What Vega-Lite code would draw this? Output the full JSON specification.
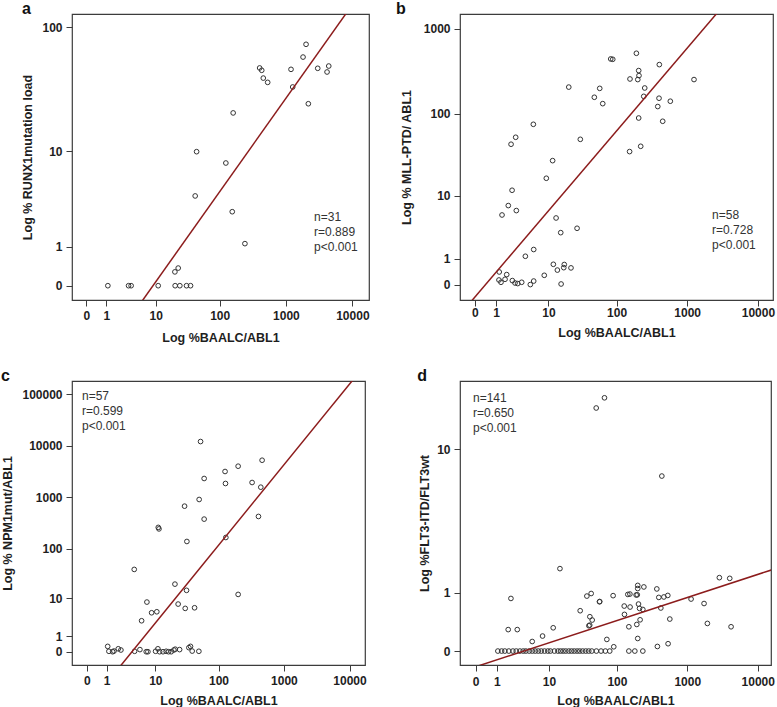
{
  "$schema": "https://vega.github.io/schema/vega-lite/v6.json",
  "padding": {"left": 0, "top": 0, "right": 0, "bottom": 0},
  "background": "white",
  "columns": 2,
  "bounds": "flush",
  "align": "each",
  "spacing": {"row": 81, "column": 91},
  "config": {
    "font": "Liberation Sans",
    "view": {"stroke": "#3c3c3c", "strokeWidth": 1.2},
    "axis": {
      "domain": false, "grid": false, "tickColor": "#3c3c3c", "tickSize": 6, "tickWidth": 1,
      "labelFont": "Liberation Sans", "labelFontWeight": "bold", "labelFontSize": 12, "labelColor": "#1e1e1e",
      "labelFlush": false, "labelOverlap": false, "labelPadding": 4,
      "titleFont": "Liberation Sans", "titleFontWeight": "bold", "titleFontSize": 12.5, "titleColor": "#1e1e1e"
    },
    "title": {"anchor": "start", "frame": "group", "fontSize": 16, "fontWeight": "bold", "font": "Liberation Sans", "color": "#111", "baseline": "alphabetic", "offset": 0, "dy": 7.2}
  },
  "datasets": {
    "a_pts": [
      {"x": 1.1, "y": 0}, {"x": 3.3, "y": 0}, {"x": 3.7, "y": 0}, {"x": 11, "y": 0}, {"x": 20.6, "y": 0}, {"x": 24.4, "y": 0}, {"x": 31, "y": 0}, {"x": 35.8, "y": 0},
      {"x": 20.4, "y": 0.28}, {"x": 23, "y": 0.37}, {"x": 241, "y": 1.12}, {"x": 155, "y": 2.75}, {"x": 42.2, "y": 3.97}, {"x": 124, "y": 7.95}, {"x": 44.4, "y": 9.96},
      {"x": 160, "y": 20.9}, {"x": 402, "y": 47.9}, {"x": 432, "y": 45.9}, {"x": 456, "y": 39.8}, {"x": 531, "y": 36.8}, {"x": 1193, "y": 46.7}, {"x": 1265, "y": 33.8},
      {"x": 1810, "y": 58.4}, {"x": 2009, "y": 73.6}, {"x": 2174, "y": 24.8}, {"x": 3011, "y": 47.6}, {"x": 4158, "y": 44.5}, {"x": 4411, "y": 49.6}
    ],
    "a_fit": [{"x": -0.995, "y": -7.83}, {"x": 19952, "y": 249.6}],
    "a_txt": [{"x": 2650, "y": 2.705, "label": "n=31\nr=0.889\np<0.001"}],
    "b_pts": [
      {"x": 191, "y": 518}, {"x": 82.4, "y": 444}, {"x": 88, "y": 440}, {"x": 404, "y": 381}, {"x": 206, "y": 324}, {"x": 208, "y": 283}, {"x": 155, "y": 258},
      {"x": 200, "y": 254}, {"x": 1250, "y": 254}, {"x": 20.3, "y": 207}, {"x": 57.3, "y": 200}, {"x": 251, "y": 202}, {"x": 47.9, "y": 157}, {"x": 243, "y": 161},
      {"x": 63.3, "y": 132}, {"x": 400, "y": 153}, {"x": 578, "y": 141}, {"x": 384, "y": 122}, {"x": 206, "y": 89.2}, {"x": 451, "y": 81.6}, {"x": 5.73, "y": 75.1},
      {"x": 30, "y": 49.7}, {"x": 2.79, "y": 52.6}, {"x": 2.26, "y": 43.4}, {"x": 153, "y": 35.4}, {"x": 220, "y": 41}, {"x": 11.6, "y": 27.5}, {"x": 9.26, "y": 16.7},
      {"x": 2.37, "y": 11.8}, {"x": 1.98, "y": 7.46}, {"x": 1.43, "y": 5.56}, {"x": 2.87, "y": 6.39}, {"x": 13.1, "y": 5.05}, {"x": 26.9, "y": 3.58}, {"x": 15.4, "y": 3.07},
      {"x": 5.81, "y": 1.58}, {"x": 4.19, "y": 1.15}, {"x": 1.22, "y": 0.406}, {"x": 1.83, "y": 0.31}, {"x": 1.2, "y": 0.132}, {"x": 1.35, "y": 0.064}, {"x": 1.68, "y": 0.154},
      {"x": 2.4, "y": 0.114}, {"x": 2.71, "y": 0.044}, {"x": 3.05, "y": 0.028}, {"x": 3.61, "y": 0.064}, {"x": 5.1, "y": 0}, {"x": 5.81, "y": 0.1}, {"x": 8.6, "y": 0.285},
      {"x": 11.9, "y": 0.73}, {"x": 13.7, "y": 0.48}, {"x": 17.4, "y": 0.72}, {"x": 17.1, "y": 0.58}, {"x": 21.9, "y": 0.57}, {"x": 15.6, "y": 0.016}
    ],
    "b_fit": [{"x": -1.512, "y": -2.459}, {"x": 25118, "y": 13771}],
    "b_txt": [{"x": 2248, "y": 6.57, "label": "n=58\nr=0.728\np<0.001"}],
    "c_pts": [
      {"x": 52.8, "y": 12170}, {"x": 465, "y": 5272}, {"x": 200, "y": 4035}, {"x": 126, "y": 3184}, {"x": 60, "y": 2327}, {"x": 128, "y": 1861}, {"x": 327, "y": 1945},
      {"x": 444, "y": 1577}, {"x": 50.2, "y": 909}, {"x": 29.7, "y": 674}, {"x": 60, "y": 377}, {"x": 409, "y": 425}, {"x": 11.2, "y": 260}, {"x": 11.5, "y": 243},
      {"x": 32.3, "y": 138}, {"x": 129.6, "y": 165}, {"x": 4.25, "y": 38.8}, {"x": 20.9, "y": 19.6}, {"x": 31.9, "y": 14.6}, {"x": 200, "y": 12}, {"x": 7.19, "y": 8.23},
      {"x": 23.5, "y": 7.44}, {"x": 30.4, "y": 5.96}, {"x": 42.6, "y": 6.15}, {"x": 8.66, "y": 4.72}, {"x": 10.6, "y": 4.98}, {"x": 5.8, "y": 3.0},
      {"x": 1.07, "y": 0.27}, {"x": 1.16, "y": 0.02}, {"x": 1.46, "y": 0}, {"x": 1.58, "y": 0.03}, {"x": 2.0, "y": 0.14}, {"x": 2.29, "y": 0.08}, {"x": 4.32, "y": 0.02},
      {"x": 5.41, "y": 0.1}, {"x": 7.0, "y": 0}, {"x": 7.48, "y": 0}, {"x": 10.1, "y": 0.02}, {"x": 11.05, "y": 0.14}, {"x": 11.8, "y": 0}, {"x": 13.4, "y": 0},
      {"x": 15.1, "y": 0.02}, {"x": 16.5, "y": 0}, {"x": 18.2, "y": 0}, {"x": 20.1, "y": 0.08}, {"x": 21.1, "y": 0.12}, {"x": 24.8, "y": 0.1}, {"x": 34.7, "y": 0.2},
      {"x": 36.8, "y": 0.27}, {"x": 39.1, "y": 0.03}, {"x": 49.7, "y": 0.02}
    ],
    "c_fit": [{"x": -1.512, "y": -49.8}, {"x": 25118, "y": 676082}],
    "c_txt": [{"x": -0.19, "y": 116400, "label": "n=57\nr=0.599\np<0.001"}],
    "d_pts": [
      {"x": 66.2, "y": 19.2}, {"x": 50.3, "y": 16.9}, {"x": 436, "y": 6.98}, {"x": 14.7, "y": 1.66}, {"x": 2.17, "y": 0.867}, {"x": 2856, "y": 1.39}, {"x": 4008, "y": 1.37},
      {"x": 36.8, "y": 0.92}, {"x": 42.5, "y": 0.98}, {"x": 56.1, "y": 0.795}, {"x": 56.5, "y": 0.8}, {"x": 88.1, "y": 0.93}, {"x": 29.4, "y": 0.614}, {"x": 40.7, "y": 0.503},
      {"x": 44, "y": 0.445}, {"x": 39.4, "y": 0.35}, {"x": 40.5, "y": 0.36}, {"x": 1.9, "y": 0.29}, {"x": 2.9, "y": 0.29}, {"x": 11.6, "y": 0.318}, {"x": 7.9, "y": 0.195},
      {"x": 5.35, "y": 0.12}, {"x": 71.6, "y": 0.148}, {"x": 90, "y": 0.052},
      {"x": 143, "y": 0.958}, {"x": 153, "y": 0.967}, {"x": 188, "y": 0.945}, {"x": 195, "y": 0.95}, {"x": 198, "y": 1.18}, {"x": 198, "y": 1.1}, {"x": 242, "y": 1.14},
      {"x": 370, "y": 1.09}, {"x": 395, "y": 0.89}, {"x": 466, "y": 0.9}, {"x": 530, "y": 0.935}, {"x": 1134, "y": 0.854}, {"x": 1733, "y": 0.758}, {"x": 127, "y": 0.706},
      {"x": 154, "y": 0.686}, {"x": 203, "y": 0.747}, {"x": 210, "y": 0.659}, {"x": 234, "y": 0.638}, {"x": 422, "y": 0.667}, {"x": 128, "y": 0.545}, {"x": 214, "y": 0.449},
      {"x": 192, "y": 0.371}, {"x": 148, "y": 0.334}, {"x": 566, "y": 0.462}, {"x": 1931, "y": 0.388}, {"x": 4186, "y": 0.334}, {"x": 198, "y": 0.161}, {"x": 377, "y": 0.056},
      {"x": 535, "y": 0.091}, {"x": 148, "y": 0}, {"x": 180, "y": 0}, {"x": 234, "y": 0},
      {"x": 1.07, "y": 0}, {"x": 1.34, "y": 0}, {"x": 1.6, "y": 0}, {"x": 1.96, "y": 0}, {"x": 2.38, "y": 0}, {"x": 2.77, "y": 0}, {"x": 3.25, "y": 0}, {"x": 3.73, "y": 0},
      {"x": 4.16, "y": 0}, {"x": 4.75, "y": 0}, {"x": 5.35, "y": 0}, {"x": 6.0, "y": 0}, {"x": 6.73, "y": 0}, {"x": 7.52, "y": 0}, {"x": 8.49, "y": 0}, {"x": 9.58, "y": 0},
      {"x": 10.5, "y": 0}, {"x": 12.1, "y": 0}, {"x": 13.7, "y": 0}, {"x": 15, "y": 0}, {"x": 16.4, "y": 0}, {"x": 18, "y": 0}, {"x": 20, "y": 0}, {"x": 21.9, "y": 0},
      {"x": 24, "y": 0}, {"x": 26.5, "y": 0}, {"x": 29, "y": 0}, {"x": 32, "y": 0}, {"x": 35.5, "y": 0}, {"x": 39.2, "y": 0}, {"x": 43.4, "y": 0}, {"x": 50.6, "y": 0},
      {"x": 59.1, "y": 0}, {"x": 68.2, "y": 0}, {"x": 78.8, "y": 0}
    ],
    "d_fit": [{"x": -1.512, "y": -0.345}, {"x": 25118, "y": 1.77}],
    "d_txt": [{"x": -0.088, "y": 20.5, "label": "n=141\nr=0.650\np<0.001"}]
  },
  "concat": [
    {
      "width": 297, "height": 286,
      "title": {"text": "a", "dx": -50},
      "encoding": {
        "x": {"field": "x", "type": "quantitative",
          "scale": {"type": "symlog", "constant": 1, "domain": [-0.649, 17782], "nice": false, "zero": false},
          "axis": {"values": [0, 1, 10, 100, 1000, 10000], "format": "d", "title": "Log %BAALC/ABL1", "labelPadding": 4, "minExtent": 20, "maxExtent": 20, "titlePadding": 11.4}},
        "y": {"field": "y", "type": "quantitative",
          "scale": {"type": "symlog", "constant": 1, "domain": [-0.291, 127.2], "nice": false, "zero": false},
          "axis": {"values": [0, 1, 10, 100], "format": "d", "title": "Log % RUNX1mutation load", "minExtent": 30, "maxExtent": 30, "titlePadding": 7.4}}
      },
      "layer": [
        {"data": {"name": "a_pts"}, "mark": {"type": "point", "filled": false, "stroke": "#333", "strokeWidth": 1, "size": 22, "opacity": 1}},
        {"data": {"name": "a_fit"}, "mark": {"type": "line", "clip": true, "color": "#8c1c1c", "strokeWidth": 1.5}},
        {"data": {"name": "a_txt"}, "mark": {"type": "text", "align": "left", "baseline": "top", "lineBreak": "\n", "lineHeight": 15, "fontSize": 12, "color": "#333"}, "encoding": {"text": {"field": "label"}}}
      ]
    },
    {
      "width": 313, "height": 286,
      "title": {"text": "b", "dx": -64},
      "encoding": {
        "x": {"field": "x", "type": "quantitative",
          "scale": {"type": "symlog", "constant": 1, "domain": [-0.614, 16330], "nice": false, "zero": false},
          "axis": {"values": [0, 1, 10, 100, 1000, 10000], "format": "d", "title": "Log %BAALC/ABL1", "labelPadding": 1.5, "minExtent": 20, "maxExtent": 20, "titlePadding": 6.7}},
        "y": {"field": "y", "type": "quantitative",
          "scale": {"type": "symlog", "constant": 1, "domain": [-0.517, 1499], "nice": false, "zero": false},
          "axis": {"values": [0, 1, 10, 100, 1000], "format": "d", "title": "Log % MLL-PTD/ ABL1", "minExtent": 36.7, "maxExtent": 36.7, "titlePadding": 10}}
      },
      "layer": [
        {"data": {"name": "b_pts"}, "mark": {"type": "point", "filled": false, "stroke": "#333", "strokeWidth": 1, "size": 22, "opacity": 1}},
        {"data": {"name": "b_fit"}, "mark": {"type": "line", "clip": true, "color": "#8c1c1c", "strokeWidth": 1.5}},
        {"data": {"name": "b_txt"}, "mark": {"type": "text", "align": "left", "baseline": "top", "lineBreak": "\n", "lineHeight": 15, "fontSize": 12, "color": "#333"}, "encoding": {"text": {"field": "label"}}}
      ]
    },
    {
      "width": 293, "height": 284,
      "title": {"text": "c", "dx": -71},
      "encoding": {
        "x": {"field": "x", "type": "quantitative",
          "scale": {"type": "symlog", "constant": 1, "domain": [-0.69, 17218], "nice": false, "zero": false},
          "axis": {"values": [0, 1, 10, 100, 1000, 10000], "format": "d", "title": "Log %BAALC/ABL1", "labelPadding": 4, "minExtent": 20, "maxExtent": 20, "titlePadding": 9.4}},
        "y": {"field": "y", "type": "quantitative",
          "scale": {"type": "symlog", "constant": 1, "domain": [-0.811, 182800], "nice": false, "zero": false},
          "axis": {"values": [0, 1, 10, 100, 1000, 10000, 100000], "format": "d", "title": "Log % NPM1mut/ABL1", "minExtent": 50, "maxExtent": 50, "titlePadding": 7.6}}
      },
      "layer": [
        {"data": {"name": "c_pts"}, "mark": {"type": "point", "filled": false, "stroke": "#333", "strokeWidth": 1, "size": 22, "opacity": 1}},
        {"data": {"name": "c_fit"}, "mark": {"type": "line", "clip": true, "color": "#8c1c1c", "strokeWidth": 1.5}},
        {"data": {"name": "c_txt"}, "mark": {"type": "text", "align": "left", "baseline": "top", "lineBreak": "\n", "lineHeight": 15, "fontSize": 12, "color": "#333"}, "encoding": {"text": {"field": "label"}}}
      ]
    },
    {
      "width": 311, "height": 284,
      "title": {"text": "d", "dx": -42.7},
      "encoding": {
        "x": {"field": "x", "type": "quantitative",
          "scale": {"type": "symlog", "constant": 1, "domain": [-0.663, 15417], "nice": false, "zero": false},
          "axis": {"values": [0, 1, 10, 100, 1000, 10000], "format": "d", "title": "Log %BAALC/ABL1", "labelPadding": 5.5, "minExtent": 20, "maxExtent": 20, "titlePadding": 9}},
        "y": {"field": "y", "type": "quantitative",
          "scale": {"type": "symlog", "constant": 1, "domain": [-0.18, 23.66], "nice": false, "zero": false},
          "axis": {"values": [0, 1, 10], "format": "d", "title": "Log %FLT3-ITD/FLT3wt", "minExtent": 23.3, "maxExtent": 23.3, "titlePadding": 5.3}}
      },
      "layer": [
        {"data": {"name": "d_pts"}, "mark": {"type": "point", "filled": false, "stroke": "#333", "strokeWidth": 1, "size": 22, "opacity": 1}},
        {"data": {"name": "d_fit"}, "mark": {"type": "line", "clip": true, "color": "#8c1c1c", "strokeWidth": 1.5}},
        {"data": {"name": "d_txt"}, "mark": {"type": "text", "align": "left", "baseline": "top", "lineBreak": "\n", "lineHeight": 15, "fontSize": 12, "color": "#333"}, "encoding": {"text": {"field": "label"}}}
      ]
    }
  ]
}
